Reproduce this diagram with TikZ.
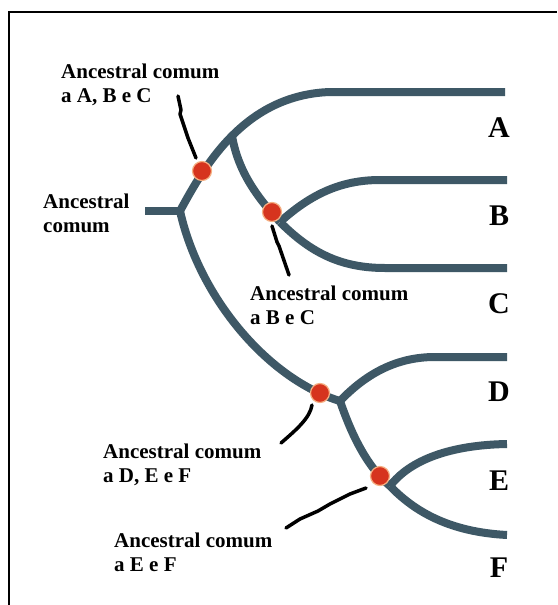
\documentclass[tikz,border=0pt]{standalone}
\usepackage{fontspec}
\setmainfont{Liberation Serif}
\definecolor{branchc}{RGB}{62,88,102}
\definecolor{dotc}{RGB}{214,52,30}
\definecolor{haloc}{RGB}{245,175,130}
\begin{document}
\begin{tikzpicture}[x=1pt,y=-1pt,
  branch/.style={draw=branchc, line width=8pt, line cap=butt},
  anc/.style={circle, fill=dotc, draw=haloc, line width=1.2pt, minimum size=19pt, inner sep=0pt},
  lbl/.style={font=\fontsize{21}{24}\selectfont\bfseries, align=left, anchor=north west, inner sep=0pt},
  tip/.style={font=\fontsize{30}{30}\selectfont\bfseries, anchor=base, inner sep=0pt},
  ptr/.style={draw=black, line width=3.5pt, line cap=round, line join=round}]
\useasboundingbox (0,0) rectangle (557,605);
\fill[white] (0,0) rectangle (557,605);
% frame
\draw[line width=1.2pt] (9,605) -- (9,12) -- (557,12);
% tree coordinates
\coordinate (r0) at (145,211);
\coordinate (f0) at (180,211);
\coordinate (j1) at (232,136);
\coordinate (f2) at (280,222);
\coordinate (f3) at (340,401);
\coordinate (f4) at (390,486);
\coordinate (ta) at (505,92);
\coordinate (tb) at (507,180);
\coordinate (tc) at (507,268);
\coordinate (td) at (507,357);
\coordinate (te) at (507,444);
\coordinate (tf) at (507,535);
% branches
\draw[branch] (r0) -- (f0);
\draw[branch] (f0) .. controls (205,165) and (245,95) .. (330,92) -- (ta);
\draw[branch] (j1) .. controls (238,170) and (255,195) .. (f2);
\draw[branch] (f2) .. controls (310,195) and (340,180) .. (380,180) -- (tb);
\draw[branch] (f2) .. controls (310,252) and (340,268) .. (385,268) -- (tc);
\draw[branch] (f0) .. controls (200,300) and (270,380) .. (f3);
\draw[branch] (f3) .. controls (365,375) and (395,357) .. (435,357) -- (td);
\draw[branch] (f3) .. controls (350,430) and (365,465) .. (f4);
\draw[branch] (f4) .. controls (410,460) and (450,445) .. (te);
\draw[branch] (f4) .. controls (415,512) and (450,532) .. (tf);
% ancestors
\node[anc] (d1) at (202,171) {};
\node[anc] (d2) at (272,212) {};
\node[anc] (d3) at (320,393) {};
\node[anc] (d4) at (380,476) {};
% labels
\node[lbl] (l1) at (61,64) {Ancestral comum\\a A, B e C};
\node[lbl] (l0) at (43,194) {Ancestral\\comum};
\node[lbl] (l2) at (250,286) {Ancestral comum\\a B e C};
\node[lbl] (l3) at (103,444) {Ancestral comum\\a D, E e F};
\node[lbl] (l4) at (114,533) {Ancestral comum\\a E e F};
% tips
\node[tip] (A) at (499,137) {A};
\node[tip] (B) at (499,225) {B};
\node[tip] (C) at (499,313) {C};
\node[tip] (D) at (499,401) {D};
\node[tip] (E) at (499,490) {E};
\node[tip] (F) at (499,577) {F};
% pointers
\coordinate (p1) at (178,96);
\coordinate (q1) at (196,158);
\draw[ptr] (p1) -- (181,110) -- (180,114) -- (188,138) -- (q1);
\coordinate (p2) at (272,226);
\coordinate (q2) at (289,275);
\draw[ptr] (p2) -- (277,242) -- (279,246) -- (q2);
\coordinate (p3) at (312,405);
\coordinate (q3) at (281,443);
\draw[ptr] (p3) .. controls (310,418) and (296,430) .. (q3);
\coordinate (p4) at (366,488);
\coordinate (q4) at (286,528);
\draw[ptr] (p4) -- (350,494) -- (330,504) -- (318,511) -- (300,519) -- (q4);
\end{tikzpicture}
\end{document}
